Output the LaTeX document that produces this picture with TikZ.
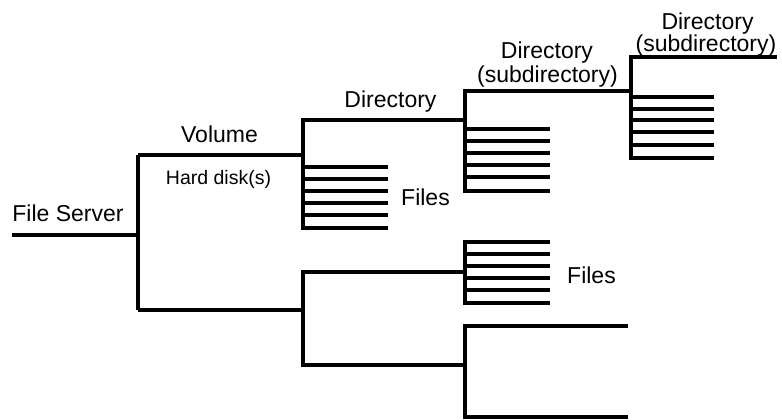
\documentclass[tikz,border=0pt]{standalone}
\usepackage{fontspec}
\setmainfont{Liberation Sans}
\usetikzlibrary{positioning}

\begin{document}
\begin{tikzpicture}[x=1pt, y=-1pt,
    treeline/.style={line width=3.6pt, line join=miter},
    lbl/.style={anchor=base, inner sep=0pt, font=\fontsize{23}{24}\selectfont},
    smalllbl/.style={lbl, font=\fontsize{19.5}{21}\selectfont}]

\path[use as bounding box] (0,0) rectangle (782,420);

% --- Junction points ---
\coordinate (srv) at (12,235);
\coordinate (root) at (138,235);
\coordinate (volTop) at (138,155);
\coordinate (volBot) at (138,310);
\coordinate (dirA) at (303,155);
\coordinate (dirC) at (303,310);
\coordinate (subA) at (465,120);
\coordinate (subB) at (631,91);
\coordinate (filesC) at (465,272);
\coordinate (subD) at (465,365);

% --- File server and volume ---
\draw[treeline] (srv) -- (root);
\draw[treeline] (volTop) -- (volBot);
\draw[treeline] (volTop) -- (dirA);
\draw[treeline] (volBot) -- (dirC);

\node[lbl] (server) at (68,221) {File Server};
\node[lbl] (volume) at (219.5,142) {Volume};
\node[smalllbl] (disk) at (218.5,184) {Hard disk(s)};

% --- Directory with files ---
\draw[treeline] (388,228) -- (303,228) -- (303,120) -- (subA);
\foreach \y in {167,179,191,203,215} {
    \draw[treeline] (303,\y) -- (388,\y);
}
\node[lbl] (dirAlbl) at (390.5,107) {Directory};
\node[lbl] (filesAlbl) at (425.5,205) {Files};

% --- Subdirectory ---
\draw[treeline] (550,191) -- (465,191) -- (465,91) -- (subB);
\foreach \y in {129,141,153,165,177} {
    \draw[treeline] (465,\y) -- (550,\y);
}
\node[lbl] (subAlbl) at (547,59) {Directory};
\node[lbl] (subAlbl2) at (547.5,83) {(subdirectory)};

% --- Subdirectory of subdirectory ---
\draw[treeline] (714,158) -- (631,158) -- (631,57) -- (777,57);
\foreach \y in {97,109,120,132,145} {
    \draw[treeline] (631,\y) -- (714,\y);
}
\node[lbl] (subBlbl) at (707.5,30) {Directory};
\node[lbl] (subBlbl2) at (706,52) {(subdirectory)};

% --- Second directory ---
\draw[treeline] (filesC) -- (303,272) -- (303,365) -- (subD);
\draw[treeline] (550,303) -- (465,303) -- (465,242) -- (550,242);
\foreach \y in {254,266,278,290} {
    \draw[treeline] (465,\y) -- (550,\y);
}
\node[lbl] (filesClbl) at (591.5,283) {Files};

\draw[treeline] (628,417) -- (465,417) -- (465,326) -- (628,326);

\end{tikzpicture}
\end{document}
